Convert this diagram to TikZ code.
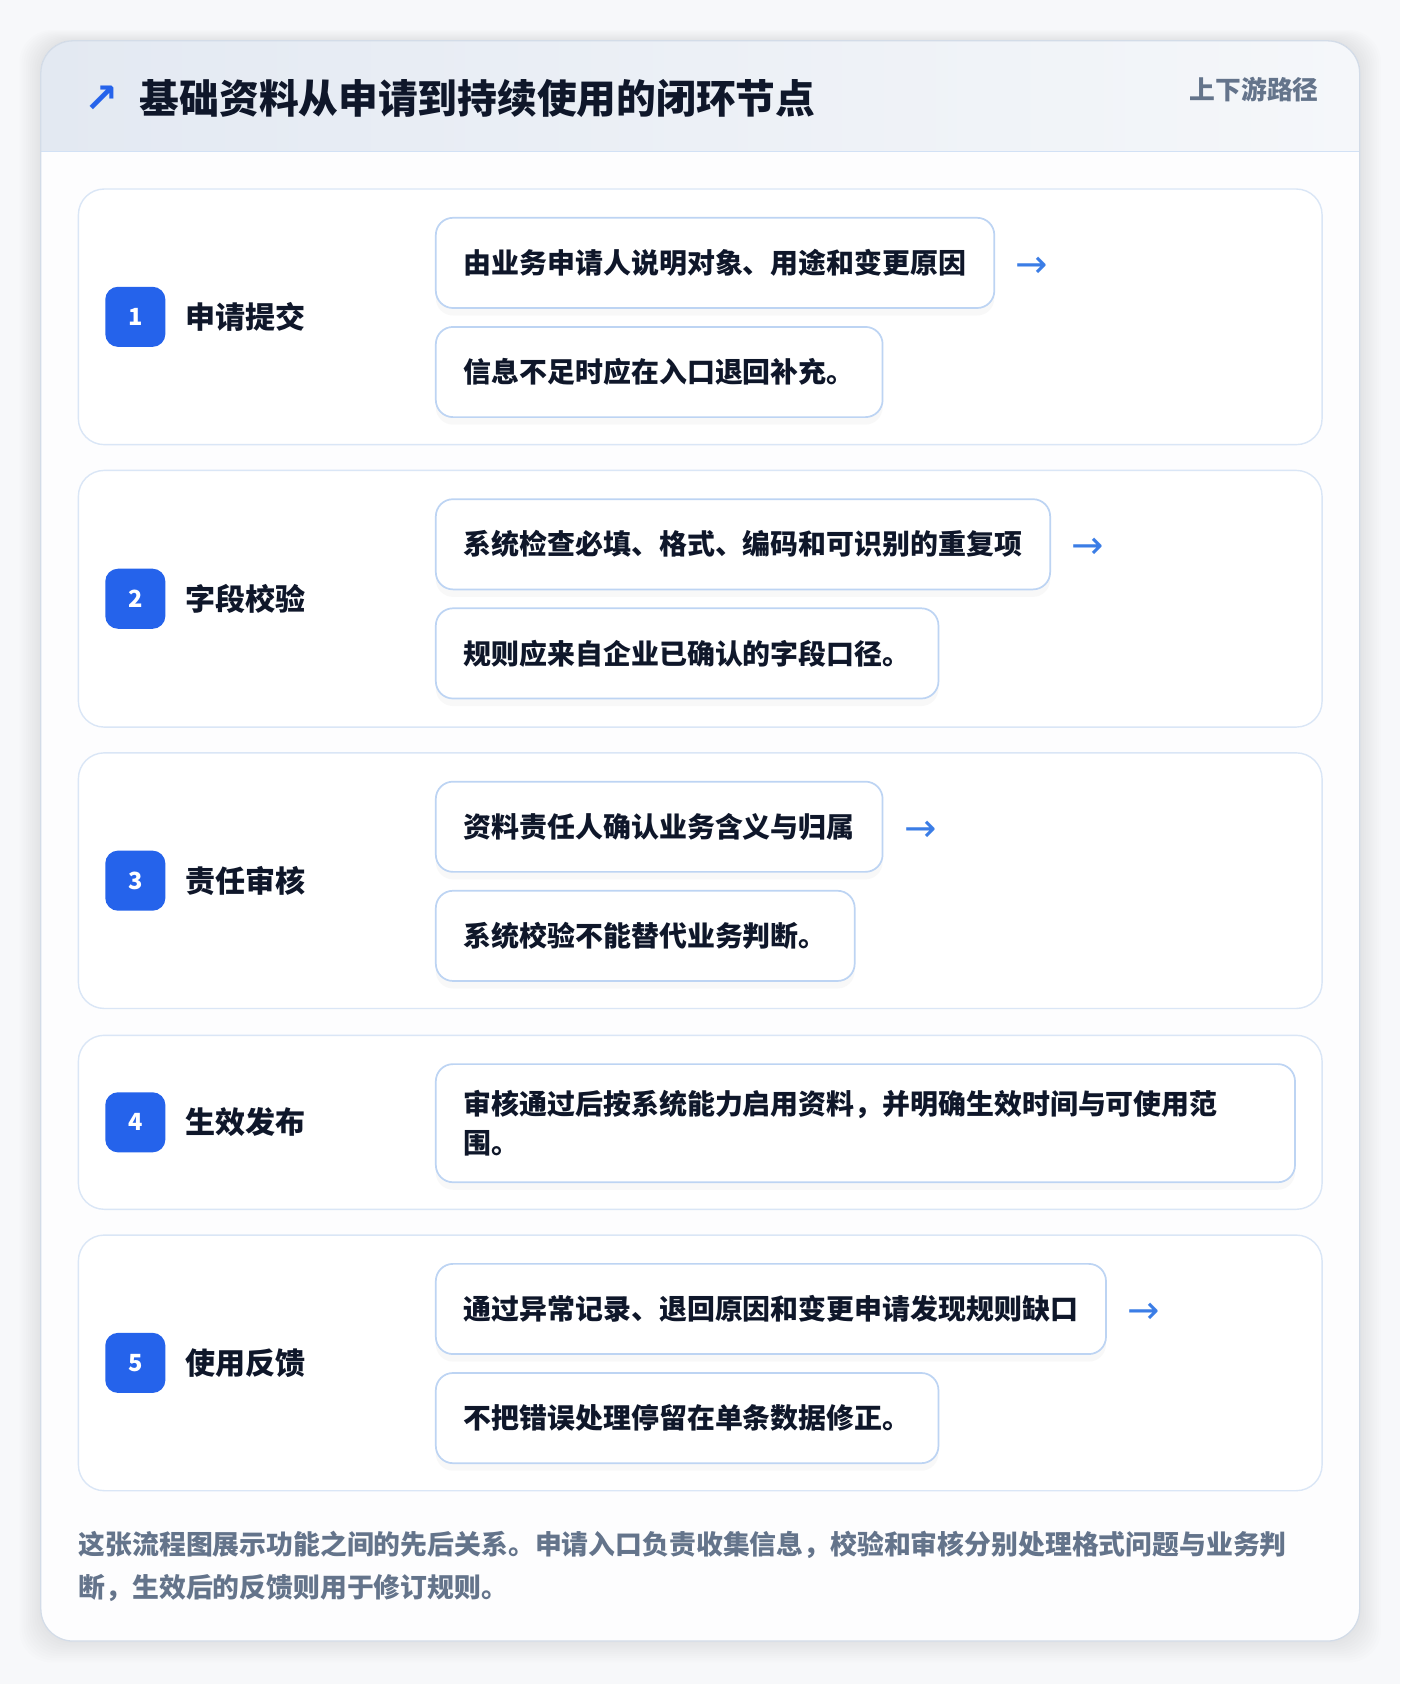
\documentclass[tikz,border=0pt]{standalone}
\usepackage{fontspec}
\setmainfont{Noto Sans CJK SC}
\newfontfamily\dejavu{DejaVu Sans}
\usetikzlibrary{shadows,positioning}
\definecolor{pagebg}{HTML}{F7F8FA}
\definecolor{ink}{HTML}{0F172A}
\definecolor{muted}{HTML}{64748B}
\definecolor{badgeblue}{HTML}{2563EB}
\definecolor{arrowblue}{HTML}{3B7DE6}
\definecolor{cardline}{HTML}{DAE6F6}
\definecolor{boxline}{HTML}{BDD4F3}
\definecolor{outerline}{HTML}{D3DCE8}
\definecolor{headleft}{HTML}{E3E9F2}
\definecolor{headright}{HTML}{F5F7FA}
\definecolor{headline}{HTML}{D2E1F5}

\begin{document}
\begin{tikzpicture}[x=1pt,y=-1pt,
	card/.style={draw=cardline,fill=white,line width=1.3pt,rounded corners=24pt},
	box/.style={draw=boxline,fill=white,line width=1.6pt,rounded corners=16pt,minimum height=84pt,inner xsep=26pt,inner ysep=0pt,align=left,text=ink,font=\fontsize{26}{36}\selectfont\bfseries,drop shadow={opacity=0.05,shadow xshift=0pt,shadow yshift=-7pt}},
	badge/.style={fill=badgeblue,rounded corners=12pt,minimum size=56pt,inner sep=0pt,text=white,font=\fontsize{22}{22}\selectfont\bfseries},
	stepname/.style={inner sep=0pt,text=ink,font=\fontsize{28}{28}\selectfont\bfseries},
	nextarrow/.style={inner sep=0pt,text=arrowblue,font=\dejavu\fontsize{36}{36}\selectfont},
	footnote/.style={inner sep=0pt,anchor=base west,text=muted,font=\fontsize{25}{25}\selectfont\bfseries}]
	\useasboundingbox (0,0) rectangle (1304,1568);
	\fill[pagebg] (0,0) rectangle (1304,1568);
	\foreach \s in {1,...,10}{
		\fill[black,opacity=0.007,rounded corners=30pt] (38-2*\s,38-\s) rectangle (1266+2*\s,1528+2*\s);
	}
	\fill[white,rounded corners=30pt] (38,38) rectangle (1266,1528);
	\begin{scope}
		\clip[rounded corners=30pt] (38,38) rectangle (1266,1528);
		\fill[left color=headleft,right color=headright] (38,38) rectangle (1266,141);
		\fill[fill=white!70!pagebg] (38,141) rectangle (1266,1528);
	\end{scope}
	\draw[headline,line width=1.3pt] (38,141) -- (1266,141);
	\draw[outerline,line width=1.2pt,rounded corners=30pt] (38,38) rectangle (1266,1528);
	\node[inner sep=0pt,text=badgeblue,font=\dejavu\fontsize{38}{38}\selectfont\bfseries] (icon) at (95,92) {↗};
	\node[anchor=west,inner sep=0pt,text=ink,font=\fontsize{37}{37}\selectfont\bfseries] (title) at (130,92) {基础资料从申请到持续使用的闭环节点};
	\node[anchor=east,inner sep=0pt,text=muted,font=\fontsize{24}{24}\selectfont\bfseries] (route) at (1228,83) {上下游路径};
	\foreach \n/\top/\bot/\name/\texta/\textb in {
		1/176/414/申请提交/由业务申请人说明对象、用途和变更原因/信息不足时应在入口退回补充。,
		2/438/677/字段校验/系统检查必填、格式、编码和可识别的重复项/规则应来自企业已确认的字段口径。,
		3/701/939/责任审核/资料责任人确认业务含义与归属/系统校验不能替代业务判断。,
		5/1150/1388/使用反馈/通过异常记录、退回原因和变更申请发现规则缺口/不把错误处理停留在单条数据修正。}{
		\draw[card] (73,\top) rectangle (1231,\bot);
		\node[badge] (badge\n) at (126,{(\top+\bot)/2}) {\n};
		\node[stepname,right=18pt of badge\n] (name\n) {\name};
		\node[box,anchor=north west] (boxa\n) at (405,\top+26) {\texta};
		\node[box,below right=16pt and 0pt of boxa\n.south west] (boxb\n) {\textb};
		\node[nextarrow,right=19pt of boxa\n,yshift=-4pt] (arr\n) {→};
	}
	\draw[card] (73,964) rectangle (1231,1126);
	\node[badge] (badge4) at (126,1045) {4};
	\node[stepname,right=18pt of badge4] (name4) {生效发布};
	\node[box,anchor=north west,minimum height=110pt,text width=748pt] (boxa4) at (405,990) {审核通过后按系统能力启用资料，并明确生效时间与可使用范\\围。};
	\node[footnote] (foot1) at (73,1447) {这张流程图展示功能之间的先后关系。申请入口负责收集信息，校验和审核分别处理格式问题与业务判};
	\node[footnote] (foot2) at (73,1487) {断，生效后的反馈则用于修订规则。};
\end{tikzpicture}
\end{document}
